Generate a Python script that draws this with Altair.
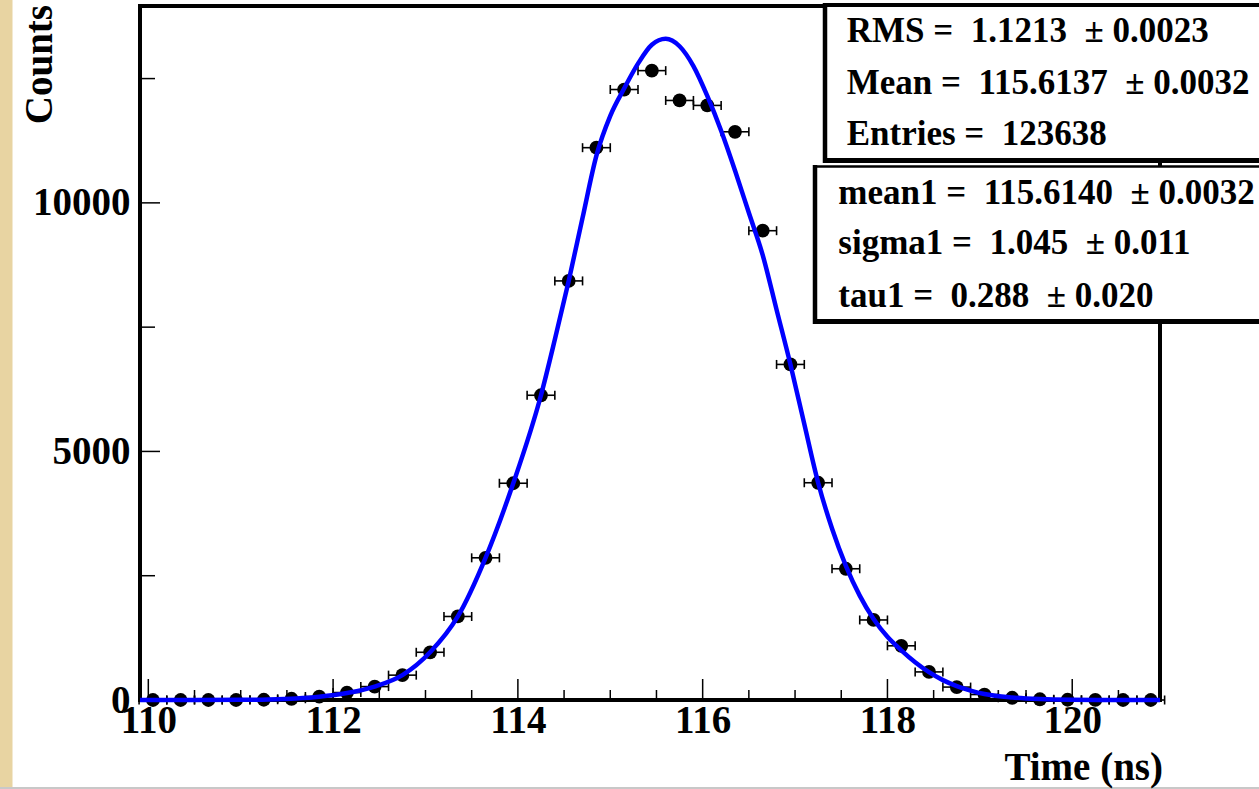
import altair as alt
import pandas as pd

# ---------------- data ----------------
bin_centers = [110.05, 110.35, 110.65, 110.95, 111.25, 111.55, 111.85, 112.15, 112.45, 112.75,
               113.05, 113.35, 113.65, 113.95, 114.25, 114.55, 114.85, 115.15, 115.45, 115.75,
               116.05, 116.35, 116.65, 116.95, 117.25, 117.55, 117.85, 118.15, 118.45, 118.75,
               119.05, 119.35, 119.65, 119.95, 120.25, 120.55, 120.85]
counts = [0, 0, 0, 0, 5, 25, 70, 150, 270, 500,
          960, 1680, 2860, 4360, 6130, 8430, 11110, 12280, 12660, 12060,
          11960, 11430, 9440, 6750, 4370, 2640, 1610, 1090, 565, 260,
          110, 45, 15, 5, 1, 0, 0]
bin_half_width = 0.15

curve_x = [109.91, 110.5, 111.0, 111.3, 111.6, 111.85, 112.15, 112.45, 112.75, 113.05,
           113.35, 113.65, 113.95, 114.25, 114.4, 114.55, 114.7, 114.85, 115.0, 115.15,
           115.3, 115.45, 115.6, 115.75, 115.9, 116.05, 116.2, 116.35, 116.5, 116.65,
           116.8, 116.95, 117.1, 117.25, 117.4, 117.55, 117.7, 117.85, 118.0, 118.15,
           118.3, 118.45, 118.6, 118.75, 118.9, 119.05, 119.35, 119.65, 120.0, 120.5, 120.95]
curve_y = [0, 0, 3, 10, 30, 65, 140, 270, 500, 960,
           1680, 2860, 4360, 6130, 7250, 8430, 9700, 10950, 11750, 12300,
           12800, 13180, 13300, 13150, 12750, 12150, 11450, 10650, 9800, 8950,
           7850, 6750, 5550, 4370, 3450, 2700, 2100, 1630, 1270, 1000,
           760, 560, 400, 280, 190, 120, 50, 18, 5, 1, 0]

x_major_ticks = [110, 112, 114, 116, 118, 120]
x_minor_ticks = [110.5, 111, 111.5, 112.5, 113, 113.5, 114.5, 115, 115.5, 116.5,
                 117, 117.5, 118.5, 119, 119.5, 120.5]
y_major_ticks = [0, 5000, 10000]
y_minor_ticks = [2500, 7500, 12500]

x_title = "Time (ns)"
y_title = "Counts"
NB = "\u00a0"
stats_box1 = ["RMS =" + NB + " 1.1213" + NB + " ± 0.0023",
              "Mean =" + NB + " 115.6137" + NB + " ± 0.0032",
              "Entries =" + NB + " 123638"]
stats_box2 = ["mean1 =" + NB + " 115.6140" + NB + " ± 0.0032",
              "sigma1 =" + NB + " 1.045" + NB + " ± 0.011",
              "tau1 =" + NB + " 0.288" + NB + " ± 0.020"]

# ---------------- layout ----------------
W, H = 1020, 694
PAD = {"left": 140, "top": 6, "right": 99, "bottom": 89}
FONT = "Liberation Serif"
x_domain = [109.91, 120.95]
y_domain = [0, 13960]

xs = alt.Scale(domain=x_domain, nice=False, zero=False)
ys = alt.Scale(domain=y_domain, nice=False, zero=False)

x_axis = alt.Axis(values=x_major_ticks, format="d", labelFont=FONT, labelFontSize=39,
                  labelFontWeight="bold", labelColor="black", ticks=False, tickSize=0,
                  domain=False, grid=False, labelPadding=1, title=None, labelOverlap=False)
y_axis = alt.Axis(values=y_major_ticks, format="d", labelFont=FONT, labelFontSize=39,
                  labelFontWeight="bold", labelColor="black", ticks=False, tickSize=0,
                  domain=False, grid=False, labelPadding=10, title=None, labelOverlap=False)

pts = pd.DataFrame({"t": bin_centers, "n": counts})
pts["lo"] = pts["t"] - bin_half_width
pts["hi"] = pts["t"] + bin_half_width
curve = pd.DataFrame({"t": curve_x, "f": curve_y})
one = pd.DataFrame({"a": [0]})

X = alt.X("t:Q", scale=xs, axis=x_axis)
Y = alt.Y("n:Q", scale=ys, axis=y_axis)

layers = []

# beige strip at the far left and thin grey line at the bottom
layers.append(alt.Chart(one).mark_rect(color="#E8D4A2").encode(
    x=alt.value(-140), x2=alt.value(-127.5), y=alt.value(-6), y2=alt.value(781)))
layers.append(alt.Chart(one).mark_rule(color="#C8C8C8", strokeWidth=2).encode(
    x=alt.value(-140), x2=alt.value(1119), y=alt.value(782)))

# inner ticks
layers.append(alt.Chart(pd.DataFrame({"t": x_major_ticks})).mark_rule(color="black", strokeWidth=1.5).encode(
    x=X, y=alt.value(H), y2=alt.value(H - 21)))
layers.append(alt.Chart(pd.DataFrame({"t": x_minor_ticks})).mark_rule(color="black", strokeWidth=1.5).encode(
    x=X, y=alt.value(H), y2=alt.value(H - 10)))
layers.append(alt.Chart(pd.DataFrame({"n": y_major_ticks})).mark_rule(color="black", strokeWidth=1.5).encode(
    y=Y, x=alt.value(0), x2=alt.value(20)))
layers.append(alt.Chart(pd.DataFrame({"n": y_minor_ticks})).mark_rule(color="black", strokeWidth=1.5).encode(
    y=Y, x=alt.value(0), x2=alt.value(15)))

# horizontal error bars with end caps
layers.append(alt.Chart(pts).mark_rule(color="black", strokeWidth=1.6).encode(
    x=alt.X("lo:Q", scale=xs, axis=x_axis), x2="hi:Q", y=Y))
layers.append(alt.Chart(pts).transform_fold(["lo", "hi"], as_=["end", "te"]).mark_tick(
    color="black", orient="vertical", size=9, thickness=1.6, opacity=1).encode(
    x=alt.X("te:Q", scale=xs, axis=x_axis), y=Y))

# data points
layers.append(alt.Chart(pts).mark_circle(size=190, color="black", opacity=1).encode(x=X, y=Y))

# fit curve
layers.append(alt.Chart(curve).mark_line(color="#0000FF", strokeWidth=4.5, interpolate="monotone").encode(
    x=X, y=alt.Y("f:Q", scale=ys, axis=y_axis)))

# stats box 1
layers.append(alt.Chart(one).mark_rect(color="white").encode(
    x=alt.value(685), x2=alt.value(1130), y=alt.value(-1), y2=alt.value(154.5)))
layers.append(alt.Chart(one).mark_rule(color="black", strokeWidth=4.5).encode(
    x=alt.value(685), y=alt.value(-3), y2=alt.value(157)))
layers.append(alt.Chart(one).mark_rule(color="black", strokeWidth=4).encode(
    x=alt.value(683), x2=alt.value(1130), y=alt.value(-1)))
layers.append(alt.Chart(one).mark_rule(color="black", strokeWidth=5).encode(
    x=alt.value(683), x2=alt.value(1130), y=alt.value(154.5)))

# stats box 2
layers.append(alt.Chart(one).mark_rect(color="white").encode(
    x=alt.value(675), x2=alt.value(1130), y=alt.value(160.5), y2=alt.value(315.5)))
layers.append(alt.Chart(one).mark_rule(color="black", strokeWidth=4.5).encode(
    x=alt.value(675), y=alt.value(159), y2=alt.value(318)))
layers.append(alt.Chart(one).mark_rule(color="black", strokeWidth=2.5).encode(
    x=alt.value(673), x2=alt.value(1130), y=alt.value(160.5)))
layers.append(alt.Chart(one).mark_rule(color="black", strokeWidth=5).encode(
    x=alt.value(673), x2=alt.value(1130), y=alt.value(315.5)))

box1_baselines = [35.7, 88.3, 139.0]
box2_baselines = [198.0, 248.0, 300.7]
for txt, yb in zip(stats_box1, box1_baselines):
    layers.append(alt.Chart(one).mark_text(font=FONT, fontSize=35, fontWeight="bold", align="left",
                                           baseline="alphabetic", color="black").encode(
        x=alt.value(706.7), y=alt.value(yb), text=alt.value(txt)))
for txt, yb in zip(stats_box2, box2_baselines):
    layers.append(alt.Chart(one).mark_text(font=FONT, fontSize=35, fontWeight="bold", align="left",
                                           baseline="alphabetic", color="black").encode(
        x=alt.value(698.3), y=alt.value(yb), text=alt.value(txt)))

# axis titles
layers.append(alt.Chart(one).mark_text(font=FONT, fontSize=39, fontWeight="bold", align="right",
                                       baseline="alphabetic", color="black").encode(
    x=alt.value(1023), y=alt.value(774), text=alt.value(x_title)))
layers.append(alt.Chart(one).mark_text(font=FONT, fontSize=39, fontWeight="bold", align="right",
                                       baseline="alphabetic", angle=270, color="black").encode(
    x=alt.value(-88), y=alt.value(-1), text=alt.value(y_title)))

chart = alt.layer(*layers).properties(
    width=W, height=H, padding=PAD, autosize=alt.AutoSizeParams(type="none"),
    background="white"
).configure_view(stroke="black", strokeWidth=4)

chart.save("out.html", embed_options={"renderer": "svg", "actions": False})
